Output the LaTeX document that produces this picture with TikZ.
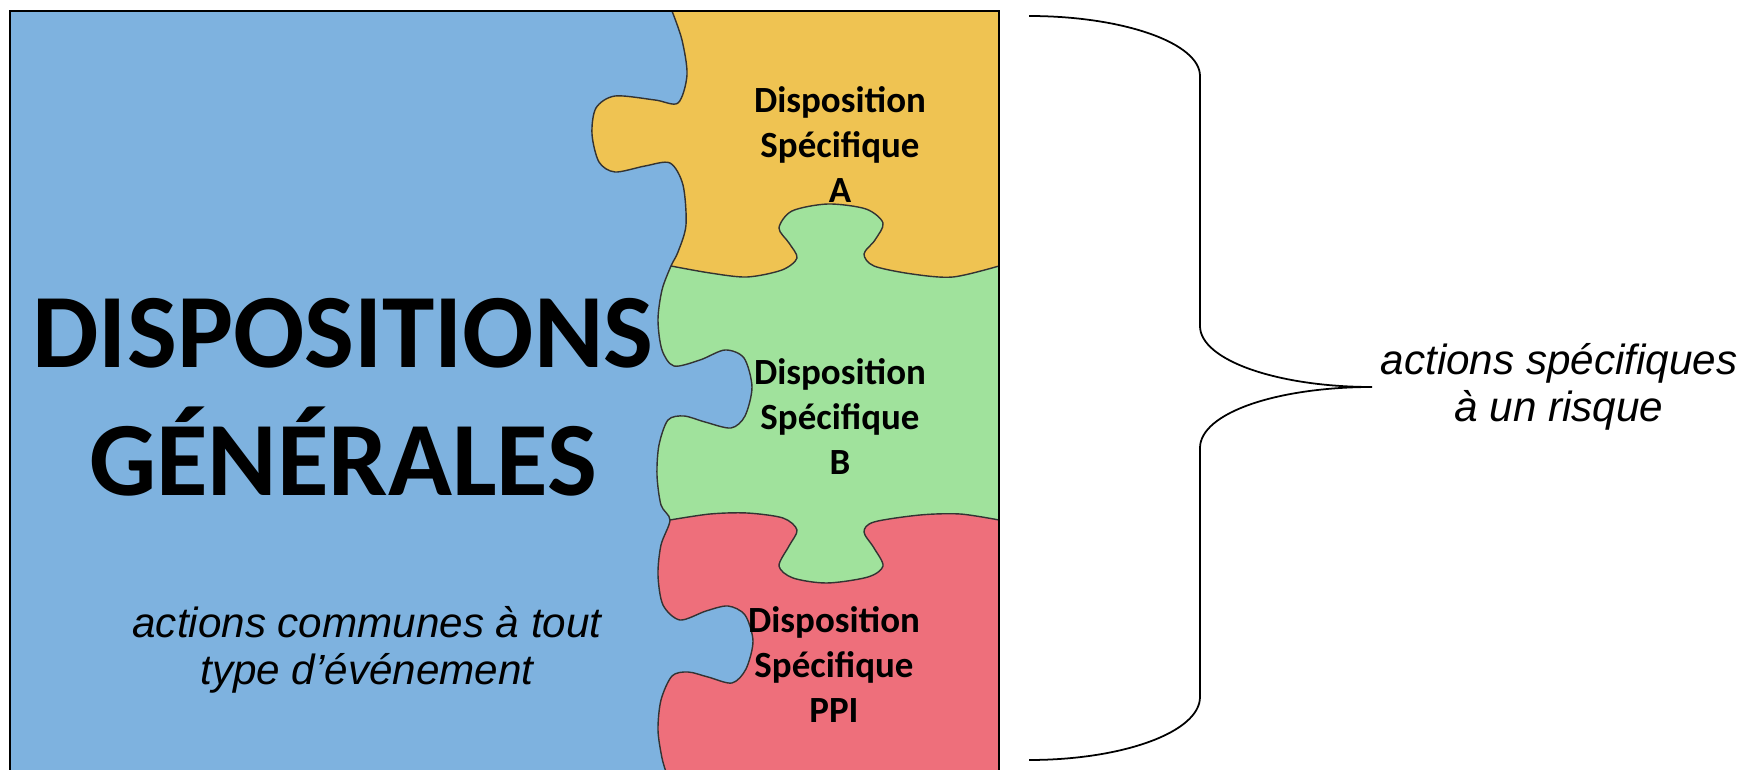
\documentclass[tikz,border=0pt]{standalone}
\usepackage{fontspec}
\setmainfont{Liberation Sans}
\newfontfamily\calibri{Carlito}
\usetikzlibrary{positioning}

\definecolor{generalblue}{RGB}{126,178,223}
\definecolor{pieceyellow}{RGB}{239,195,82}
\definecolor{piecegreen}{RGB}{160,226,156}
\definecolor{piecered}{RGB}{238,111,123}

\newcommand{\edgewidth}{0.4pt}
\newcommand{\framewidth}{0.7pt}

% left border of the column of specific pieces, from top to bottom
\newcommand{\leftedge}{plot[smooth] coordinates {(672,11) (682,40) (687,75)
  (678,103) (655,100) (615,96) (596,108) (592,134) (599,162) (615,172)
  (645,166) (670,163) (683,185) (686,225) (678,252) (671,266) (662,290)
  (658,320) (662,350) (674,366) (700,360) (725,350) (744,358) (752,387)
  (745,416) (731,428) (705,422) (684,416) (668,420) (659,445) (657,475)
  (661,505) (670,520) (661,545) (658,575) (663,605) (680,620) (706,611)
  (728,606) (745,615) (753,641) (746,669) (732,683) (708,677) (688,672)
  (672,676) (661,700) (658,730) (662,758) (667,775)}}
% joint between A and B
\newcommand{\jointab}{plot[smooth] coordinates {(671,266) (710,273) (747,277)
  (782,270) (797,258) (789,243) (779,228) (792,211) (828,204) (866,209)
  (883,223) (875,240) (864,254) (874,266) (912,274) (953,277) (999,266)}}
% joint between B and PPI
\newcommand{\jointbppi}{plot[smooth] coordinates {(670,520) (710,514) (747,513)
  (783,518) (797,530) (789,546) (779,566) (793,578) (827,583) (868,577)
  (883,566) (874,548) (864,532) (874,522) (920,515) (960,514) (999,520)}}

\tikzstyle{frame} = [% border of the general dispositions
  draw=black,
  line width=\framewidth
  ]
\tikzstyle{edge} = [% outline of the puzzle pieces
  draw=black!80,
  line width=\edgewidth
  ]
\tikzstyle{general} = [% big title
  font=\calibri\bfseries\fontsize{30}{36.4}\selectfont,
  align=center,
  inner sep=0pt
  ]
\tikzstyle{specific} = [% label of a specific piece
  font=\calibri\bfseries\fontsize{10.5}{12.8}\selectfont,
  align=center,
  inner sep=0pt
  ]
\tikzstyle{comment} = [% italic explanations
  font=\itshape\fontsize{12}{13.4}\selectfont,
  align=center,
  inner sep=0pt
  ]
\tikzstyle{brace} = [% curly bracket
  draw=black,
  line width=0.5pt
  ]

\begin{document}
\begin{tikzpicture}[x=0.01cm, y=-0.01cm]
\useasboundingbox (0,0) rectangle (1747,770);

%%% Pieces
\fill[generalblue] (10,11) rectangle (999,790);
\begin{scope}
  \clip \leftedge -- (999,790) -- (999,11) -- cycle;
  \fill[piecered] (580,0) rectangle (1000,790);
  \fill[piecegreen] \jointbppi -- (1000,0) -- (580,0) -- (580,520) -- cycle;
  \fill[pieceyellow] \jointab -- (1000,0) -- (580,0) -- (580,266) -- cycle;
\end{scope}
\draw[edge] \leftedge;
\draw[edge] \jointab;
\draw[edge] \jointbppi;
\draw[frame] (10,790) -- (10,11) -- (999,11) -- (999,790);

%%% Nodes
\node[general] (title) at (343,397) {DISPOSITIONS\\GÉNÉRALES};
\node[comment] (common) at (367,650) {actions communes à tout\\type d’événement};
\node[specific] (dispA) at (840,145) {Disposition\\Spécifique\\A};
\node[specific] (dispB) at (840,417) {Disposition\\Spécifique\\B};
\node[specific] (dispPPI) at (834,665) {Disposition\\Spécifique\\PPI};

%%% Brace
\coordinate (top) at (1029,16);
\coordinate (tip) at (1372,387);
\coordinate (bottom) at (1029,760);
\node[comment, anchor=west] (risk) [right=0.08cm of tip] {actions spécifiques\\à un risque};
\draw[brace] (top) .. controls (1123,16) and (1200,43) .. (1200,76)
  -- (1200,326) .. controls (1200,360) and (1277,387) .. (tip)
  .. controls (1277,387) and (1200,413) .. (1200,448)
  -- (1200,697) .. controls (1200,732) and (1123,760) .. (bottom);

\end{tikzpicture}
\end{document}
